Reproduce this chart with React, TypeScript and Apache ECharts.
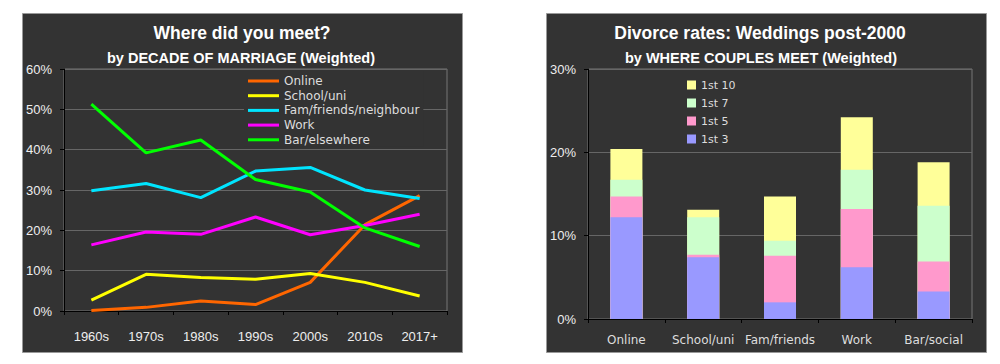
import React, { useEffect, useRef } from "react";
import * as echarts from "echarts";

const decades = ["1960s", "1970s", "1980s", "1990s", "2000s", "2010s", "2017+"];
const online = [0.1, 0.9, 2.5, 1.6, 7.1, 21.4, 28.6];
const schoolUni = [2.7, 9.1, 8.3, 7.9, 9.3, 7.1, 3.7];
const famFriends = [29.8, 31.6, 28.1, 34.7, 35.6, 30.0, 27.9];
const work = [16.4, 19.6, 19.0, 23.3, 18.9, 21.2, 24.0];
const barElsewhere = [51.3, 39.2, 42.4, 32.6, 29.5, 20.6, 16.0];

const places = ["Online", "School/uni", "Fam/friends", "Work", "Bar/social"];
// cumulative divorce rate (%) within N years of wedding
const within10 = [20.4, 13.1, 14.7, 24.2, 18.8];
const within7 = [16.7, 12.2, 9.4, 17.9, 13.6];
const within5 = [14.7, 7.7, 7.6, 13.2, 6.9];
const within3 = [12.2, 7.4, 2.0, 6.2, 3.3];

const BG = "#333333";
const GRID = "#666666";
const LABEL_FONT = "Liberation Sans";
const LEGEND_FONT = "DejaVu Sans";

export default function App() {
  const ref = useRef<HTMLDivElement>(null);
  useEffect(() => {
    document.body.style.margin = "0";
    const chart = echarts.init(ref.current!, null, { renderer: "svg" });
    const axisLine = { show: true, lineStyle: { color: "#000", width: 1 } };
    const axisTick = { show: true, length: 4, lineStyle: { color: "#000" } };
    const valAxis = (gridIndex: number, max: number) => ({
      type: "value",
      gridIndex,
      min: 0,
      max,
      interval: 10,
      axisLine,
      axisTick,
      axisLabel: {
        formatter: "{value}%",
        color: "#eeeeee",
        fontFamily: LABEL_FONT,
        fontSize: 13,
        margin: 12,
      },
      splitLine: { show: true, lineStyle: { color: GRID, width: 1 } },
    });
    const lineSeries = (name: string, data: number[], color: string) => ({
      name,
      type: "line",
      data,
      xAxisIndex: 0,
      yAxisIndex: 0,
      showSymbol: false,
      symbol: "none",
      lineStyle: { color, width: 3 },
      itemStyle: { color },
    });
    const barSeries = (name: string, data: number[], color: string) => ({
      name,
      type: "bar",
      data,
      xAxisIndex: 1,
      yAxisIndex: 1,
      barWidth: 32,
      barGap: "-100%",
      itemStyle: { color },
    });
    const titleText = (x: number, y: number, text: string, size: number) => ({
      type: "text",
      x,
      y,
      silent: true,
      style: {
        text,
        fill: "#ffffff",
        fontFamily: LABEL_FONT,
        fontWeight: "bold",
        fontSize: size,
        align: "center",
        verticalAlign: "middle",
      },
    });
    chart.setOption({
      animation: false,
      backgroundColor: "#ffffff",
      graphic: [
        { type: "rect", z: -10, shape: { x: 22.5, y: 13.5, width: 440, height: 339 }, style: { fill: BG, stroke: "#999", lineWidth: 1 } },
        { type: "rect", z: -10, shape: { x: 546.5, y: 13.5, width: 440, height: 339 }, style: { fill: BG, stroke: "#999", lineWidth: 1 } },
        titleText(242, 33, "Where did you meet?", 17.5),
        titleText(241, 58, "by DECADE OF MARRIAGE (Weighted)", 14.5),
        titleText(760, 33, "Divorce rates: Weddings post-2000", 17.5),
        titleText(761, 58, "by WHERE COUPLES MEET (Weighted)", 14.5),
      ],
      grid: [
        { left: 64, top: 69, width: 383, height: 242, show: true, borderColor: "#777", backgroundColor: BG, containLabel: false },
        { left: 588, top: 69, width: 384, height: 250, show: true, borderColor: "#777", backgroundColor: BG, containLabel: false },
      ],
      xAxis: [
        {
          type: "category",
          gridIndex: 0,
          data: decades,
          boundaryGap: true,
          axisLine,
          axisTick: { ...axisTick, interval: 0 },
          axisLabel: { color: "#eeeeee", fontFamily: LABEL_FONT, fontSize: 13, margin: 19, interval: 0 },
        },
        {
          type: "category",
          gridIndex: 1,
          data: places,
          boundaryGap: true,
          axisLine,
          axisTick: { ...axisTick, interval: 0 },
          axisLabel: { color: "#dddddd", fontFamily: LEGEND_FONT, fontSize: 12, margin: 15, interval: 0 },
        },
      ],
      yAxis: [valAxis(0, 60), valAxis(1, 30)],
      legend: [
        {
          orient: "vertical",
          left: 244,
          top: 71,
          padding: [4, 4, 1, 4],
          backgroundColor: BG,
          icon: "rect",
          itemWidth: 31,
          itemHeight: 3,
          itemGap: 2.7,
          data: ["Online", "School/uni", "Fam/friends/neighbour", "Work", "Bar/elsewhere"],
          textStyle: { color: "#dddddd", fontFamily: LEGEND_FONT, fontSize: 12, lineHeight: 12 },
          selectedMode: false,
        },
        {
          orient: "vertical",
          left: 687,
          top: 79,
          padding: 0,
          icon: "rect",
          itemWidth: 9,
          itemHeight: 9,
          itemGap: 6,
          data: ["1st 10", "1st 7", "1st 5", "1st 3"],
          textStyle: { color: "#dddddd", fontFamily: LEGEND_FONT, fontSize: 11, lineHeight: 12 },
          selectedMode: false,
        },
      ],
      series: [
        lineSeries("Online", online, "#ff6600"),
        lineSeries("School/uni", schoolUni, "#ffff00"),
        lineSeries("Fam/friends/neighbour", famFriends, "#00e5ff"),
        lineSeries("Work", work, "#ff00ff"),
        lineSeries("Bar/elsewhere", barElsewhere, "#00ff00"),
        barSeries("1st 10", within10, "#ffff99"),
        barSeries("1st 7", within7, "#ccffcc"),
        barSeries("1st 5", within5, "#ff99cc"),
        barSeries("1st 3", within3, "#9999ff"),
      ],
    });
    return () => chart.dispose();
  }, []);
  return (
    <div
      ref={ref}
      style={{ position: "absolute", left: 0, top: 0, width: 1000, height: 364 }}
    />
  );
}
